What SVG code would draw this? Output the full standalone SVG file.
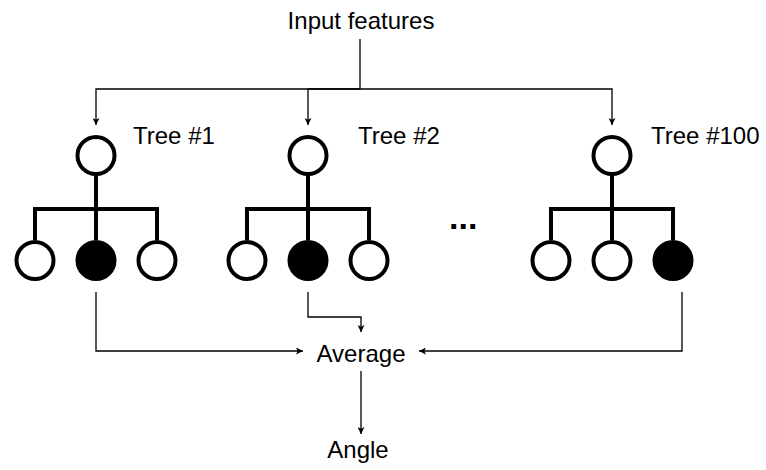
<svg xmlns="http://www.w3.org/2000/svg" width="766" height="470" viewBox="0 0 766 470">
<defs>
<marker id="arr" viewBox="0 0 10 10" refX="10" refY="5" markerWidth="7" markerHeight="7" markerUnits="userSpaceOnUse" orient="auto">
<path d="M0,0 L10,5 L0,10 L2.5,5 Z" fill="#000"/>
</marker>
<style>
.t{font-family:"Liberation Sans",Arial,sans-serif;font-size:24px;fill:#000}
.c{fill:none;stroke:#000;stroke-width:1.3}
.n{fill:#fff;stroke:#000;stroke-width:4}
.f{fill:#000;stroke:#000;stroke-width:4}
.b{fill:none;stroke:#000;stroke-width:4}
</style>
</defs>
<rect width="766" height="470" fill="#fff"/>
<g id="connectors">
<path class="c" d="M360,39 V89"/>
<path class="c" d="M360,89 H96 V125" marker-end="url(#arr)"/>
<path class="c" d="M360,89 H308 V125" marker-end="url(#arr)"/>
<path class="c" d="M360,89 H612 V125" marker-end="url(#arr)"/>
<path class="c" d="M96,292 V351 H303" marker-end="url(#arr)"/>
<path class="c" d="M308,292 V317 H361 V332" marker-end="url(#arr)"/>
<path class="c" d="M682,292 V351 H419" marker-end="url(#arr)"/>
<path class="c" d="M361,371 V434" marker-end="url(#arr)"/>
</g>
<g id="input"><text class="t" x="361" y="29" text-anchor="middle">Input features</text></g>
<g id="tree1">
<path class="b" d="M96,175 V209 M35,240 V209 H157 V240 M96,209 V240"/>
<circle class="n" cx="96" cy="155.5" r="18.5"/>
<circle class="n" cx="35" cy="260.5" r="18.5"/>
<circle class="f" cx="96" cy="260.5" r="18.5"/>
<circle class="n" cx="157" cy="260.5" r="18.5"/>
<text class="t" x="133" y="144">Tree #1</text>
</g>
<g id="tree2">
<path class="b" d="M308,175 V209 M247,240 V209 H369 V240 M308,209 V240"/>
<circle class="n" cx="308" cy="155.5" r="18.5"/>
<circle class="n" cx="247" cy="260.5" r="18.5"/>
<circle class="f" cx="308" cy="260.5" r="18.5"/>
<circle class="n" cx="369" cy="260.5" r="18.5"/>
<text class="t" x="358" y="144">Tree #2</text>
</g>
<g id="tree100">
<path class="b" d="M612,175 V209 M551,240 V209 H673 V240 M612,209 V240"/>
<circle class="n" cx="612" cy="155.5" r="18.5"/>
<circle class="n" cx="551" cy="260.5" r="18.5"/>
<circle class="n" cx="612" cy="260.5" r="18.5"/>
<circle class="f" cx="673" cy="260.5" r="18.5"/>
<text class="t" x="651" y="144">Tree #100</text>
</g>
<g id="dots"><text x="449" y="229" style="font-family:'Liberation Sans',Arial,sans-serif;font-size:34px;font-weight:bold">...</text></g>
<g id="average"><text class="t" x="361" y="362" text-anchor="middle">Average</text></g>
<g id="angle"><text class="t" x="358" y="458" text-anchor="middle">Angle</text></g>
</svg>
